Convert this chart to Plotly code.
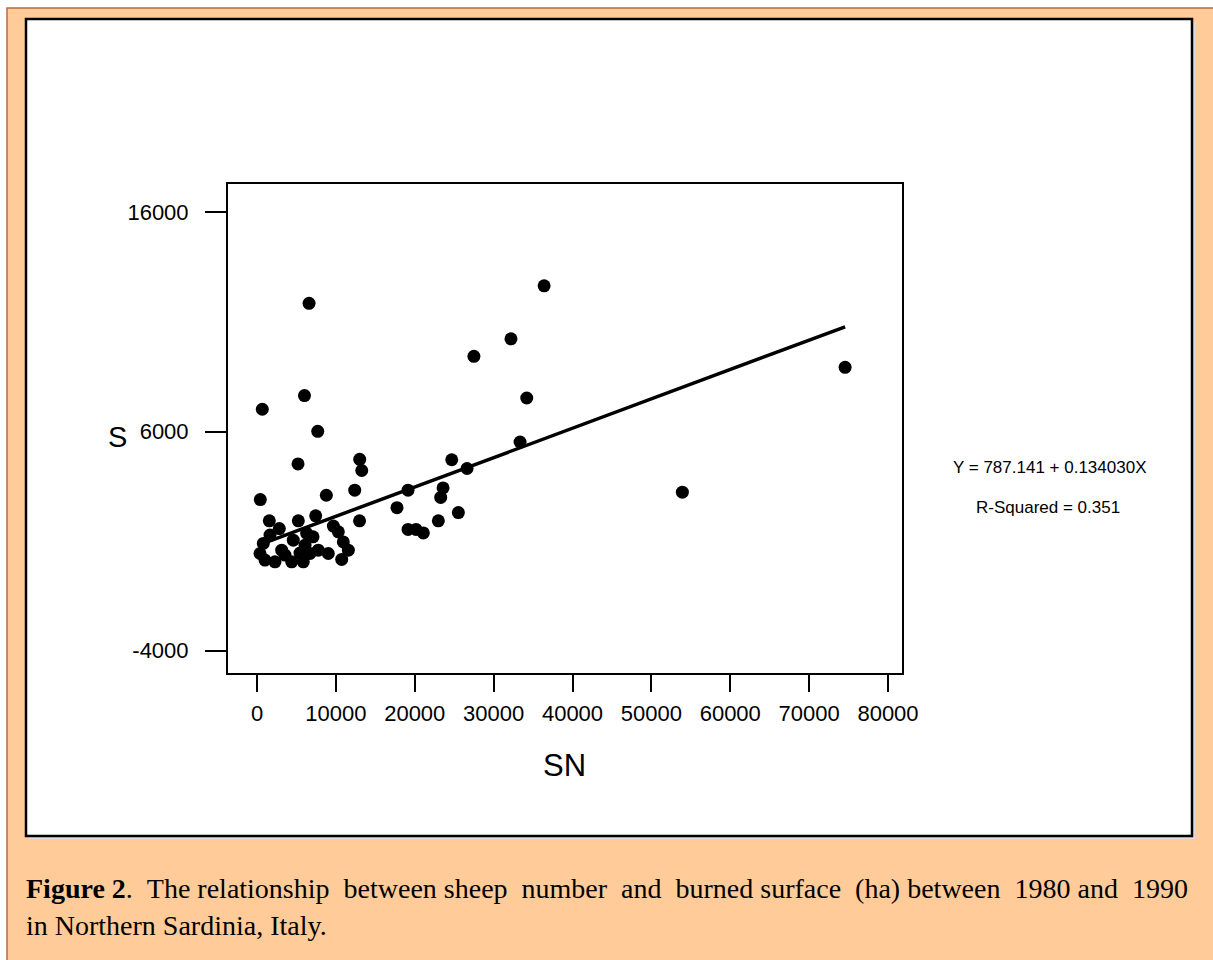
import plotly.graph_objects as go

# ---- data ----
SN = [36400, 6600, 32200, 27500, 74560, 6020, 34200, 670, 7700, 33350,
      13020, 24690, 13280, 5200, 26630, 53930, 12390, 19150, 23590, 23290,
      8790, 420, 17750, 25530, 7440, 13000, 1560, 5240, 22990, 19150,
      20160, 21090, 2830, 9680, 10310, 10940, 11580, 10740, 7770, 9040,
      4600, 4400, 5870, 800, 380, 1010, 2280, 1650, 3130, 6090,
      6300, 6720, 3550, 5450, 7100]
S = [12650, 11850, 10230, 9430, 8930, 7640, 7530, 7015, 6010, 5520,
     4730, 4710, 4220, 4520, 4310, 3230, 3320, 3320, 3425, 2990,
     3090, 2890, 2520, 2300, 2150, 1920, 1920, 1920, 1920, 1530,
     1530, 1370, 1570, 1680, 1420, 960, 580, 160, 580, 430,
     1040, 50, 50, 890, 430, 130, 50, 1270, 580, 810,
     1350, 430, 360, 450, 1190]

INTERCEPT = 787.141
SLOPE = 0.134030
R_SQUARED = 0.351

X_TICKS = [0, 10000, 20000, 30000, 40000, 50000, 60000, 70000, 80000]
Y_TICKS = [-4000, 6000, 16000]

CAPTION_1_WORDS = ["<b>Figure 2</b>.", "The", "relationship", "between", "sheep", "number",
                   "\u00a0and", "burned", "surface", "(ha)", "between", "1980", "and", "1990"]
CAPTION_2 = "in Northern Sardinia, Italy."

# ---- layout geometry (pixels) ----
W, H = 1213, 960
L, R, T, B = 228, 1213 - 902, 184, 960 - 673
PW = W - L - R
PH = H - T - B


def px(x):
    return (x - L) / PW


def py(y):
    return (H - B - y) / PH


# justified-looking first caption line: widen every other gap
gaps = [" \u00a0" if i % 2 == 0 else " " for i in range(len(CAPTION_1_WORDS) - 1)]
caption_1 = CAPTION_1_WORDS[0]
for g, w in zip(gaps, CAPTION_1_WORDS[1:]):
    caption_1 += g + w

fit_x = sorted(SN)
fit_y = [INTERCEPT + SLOPE * v for v in fit_x]

fig = go.Figure()
fig.add_trace(go.Scatter(x=fit_x, y=fit_y, mode="lines",
                         line=dict(color="black", width=3.5),
                         hoverinfo="skip", showlegend=False))
fig.add_trace(go.Scatter(x=SN, y=S, mode="markers",
                         marker=dict(color="black", size=13, line=dict(width=0)),
                         showlegend=False))

tickfont = dict(family="Liberation Sans Narrow, Arial Narrow, Liberation Sans, Arial",
                size=22, color="black")

fig.update_xaxes(range=[-3677, 81775], tickvals=X_TICKS,
                 ticktext=[str(v) for v in X_TICKS],
                 showgrid=False, zeroline=False,
                 showline=True, mirror=True, linecolor="black", linewidth=2,
                 ticks="outside", ticklen=17, tickwidth=2, tickcolor="black",
                 tickfont=tickfont, ticklabelstandoff=3)
fig.update_yaxes(range=[-5026, 17300], tickvals=Y_TICKS,
                 ticktext=[str(v) for v in Y_TICKS],
                 showgrid=False, zeroline=False,
                 showline=True, mirror=True, linecolor="black", linewidth=2,
                 ticks="outside", ticklen=21, tickwidth=2, tickcolor="black",
                 tickfont=tickfont, ticklabelstandoff=12)

shapes = [
    # orange page
    dict(type="rect", xref="paper", yref="paper",
         x0=px(7), x1=px(1225), y0=py(8), y1=py(975),
         fillcolor="#FFCC99", line=dict(color="#B86B45", width=1.5), layer="below"),
    # panel shadow
    dict(type="rect", xref="paper", yref="paper",
         x0=px(29), x1=px(1195), y0=py(22), y1=py(839),
         fillcolor="#dcdcdc", line=dict(width=0), layer="below"),
    # white panel
    dict(type="rect", xref="paper", yref="paper",
         x0=px(26), x1=px(1192), y0=py(19), y1=py(836),
         fillcolor="white", line=dict(color="black", width=2.5), layer="below"),
]

eq_font = dict(family="Liberation Sans Narrow, Arial Narrow, Liberation Sans, Arial",
               size=17, color="black")
cap_font = dict(family="Liberation Serif, Times New Roman, serif", size=28, color="black")

annotations = [
    dict(text="S", x=px(117), y=py(437), xref="paper", yref="paper",
         showarrow=False, font=dict(family="Liberation Sans, Arial", size=29, color="black"),
         xanchor="center", yanchor="middle"),
    dict(text="SN", x=px(564), y=py(765), xref="paper", yref="paper",
         showarrow=False, font=dict(family="Liberation Sans, Arial", size=31, color="black"),
         xanchor="center", yanchor="middle"),
    dict(text=f"Y = {INTERCEPT} + {SLOPE:.6f}X", x=px(1049), y=py(467),
         xref="paper", yref="paper", showarrow=False, font=eq_font,
         xanchor="center", yanchor="middle"),
    dict(text=f"R-Squared = {R_SQUARED}", x=px(1048), y=py(507),
         xref="paper", yref="paper", showarrow=False, font=eq_font,
         xanchor="center", yanchor="middle"),
    dict(text=caption_1, x=px(24), y=py(888), xref="paper", yref="paper",
         showarrow=False, font=cap_font, xanchor="left", yanchor="middle"),
    dict(text=CAPTION_2, x=px(24), y=py(925), xref="paper", yref="paper",
         showarrow=False, font=cap_font, xanchor="left", yanchor="middle"),
]

fig.update_layout(width=W, height=H, margin=dict(l=L, r=R, t=T, b=B, pad=0),
                  paper_bgcolor="white", plot_bgcolor="white",
                  shapes=shapes, annotations=annotations, showlegend=False,
                  hovermode="closest")

fig.write_html("out.html", config={"displayModeBar": False},
               post_script="document.body.style.margin='0';document.body.style.overflow='hidden';")
